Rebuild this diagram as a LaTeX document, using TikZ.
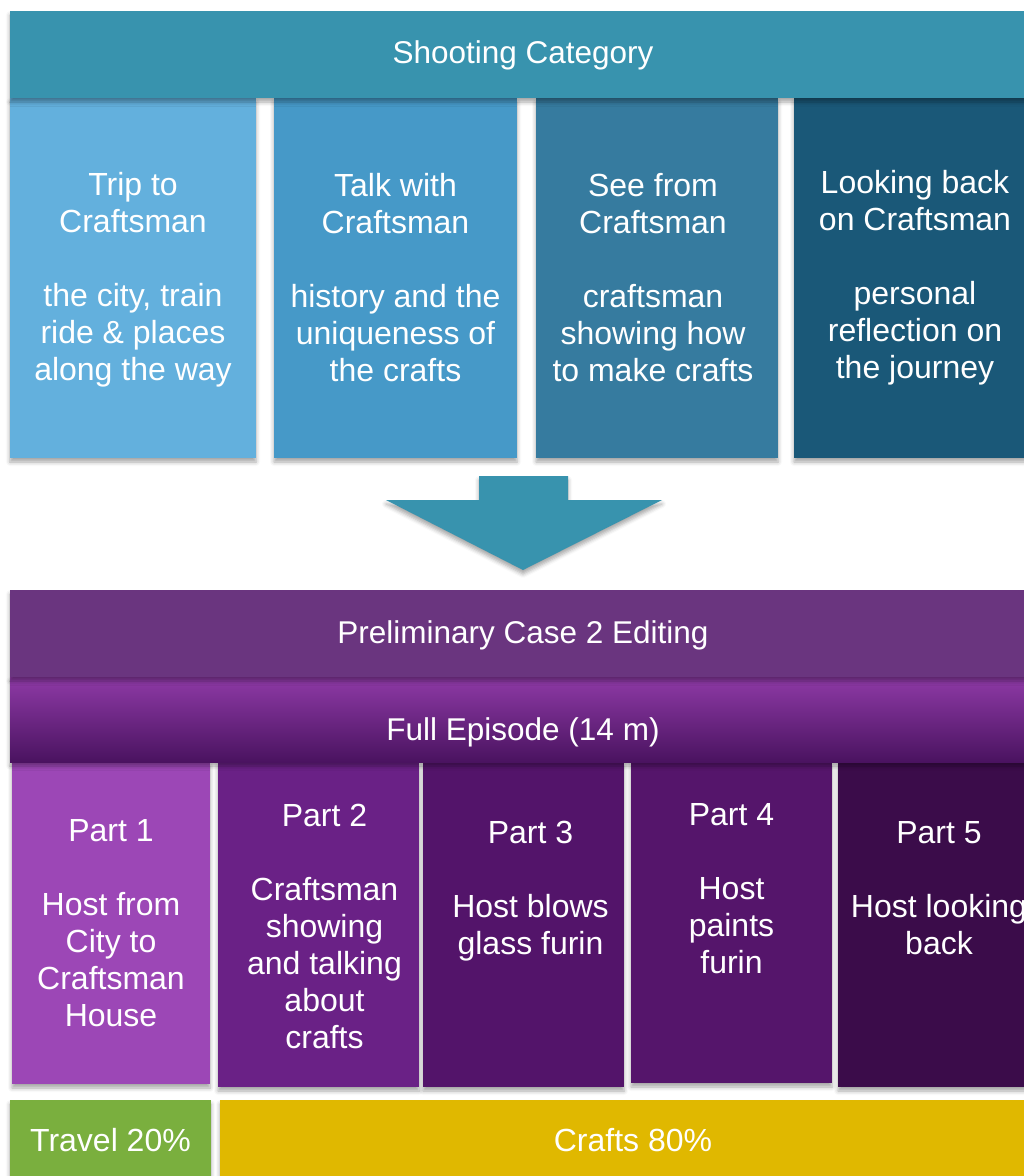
\documentclass[tikz,border=0pt]{standalone}
\usepackage{fontspec}
\setmainfont{Liberation Sans}
\usetikzlibrary{shadows.blur}
\definecolor{tealhdr}{HTML}{3893AE}
\definecolor{colA}{HTML}{63B0DD}
\definecolor{colB}{HTML}{4699C8}
\definecolor{colC}{HTML}{367B9F}
\definecolor{colD}{HTML}{1A5878}
\definecolor{purphdr}{HTML}{6A357F}
\definecolor{epTop}{HTML}{8E3AA6}
\definecolor{epBot}{HTML}{4A1360}
\definecolor{partA}{HTML}{9C47B6}
\definecolor{partB}{HTML}{6A2186}
\definecolor{partC}{HTML}{53146A}
\definecolor{partD}{HTML}{55156B}
\definecolor{partE}{HTML}{3B0C4A}
\definecolor{travelc}{HTML}{7AAF3E}
\definecolor{craftsc}{HTML}{E0B800}
\tikzset{
  shd/.style={blur shadow={shadow xshift=0pt, shadow yshift=-4pt, shadow blur radius=4pt, shadow opacity=35}},
  blockbox/.style={shd, inner sep=0pt, text=white, align=center,
    font=\fontsize{32}{37}\selectfont},
  txt/.style={text=white, align=center, inner sep=0pt, font=\fontsize{32}{37}\selectfont},
  hdrtxt/.style={txt, font=\fontsize{31.5}{37}\selectfont}
}
\begin{document}
\begin{tikzpicture}[x=1pt,y=-1pt]
\useasboundingbox (0,0) rectangle (1024,1176);
\clip (0,0) rectangle (1024,1176);

% category columns
\node[blockbox, fill=colA, minimum width=246pt, minimum height=360pt,
  label={[txt, yshift=-2pt]center:{Trip to\\Craftsman\\~\\the city, train\\ride \& places\\along the way}}] (c1) at (133,278) {};
\node[blockbox, fill=colB, minimum width=243pt, minimum height=360pt] (c2) at (395.5,278)
  {Talk with\\Craftsman\\~\\history and the\\uniqueness of\\the crafts};
\node[blockbox, fill=colC, minimum width=242pt, minimum height=360pt,
  label={[txt, xshift=-4pt]center:{See from\\Craftsman\\~\\craftsman\\showing how\\to make crafts}}] (c3) at (657,278) {};
\node[blockbox, fill=colD, minimum width=242pt, minimum height=360pt] (c4) at (915,278)
  {Looking back\\on Craftsman\\~\\personal\\reflection on\\the journey};

% top banner
\node[shd, inner sep=0pt, fill=tealhdr, minimum width=1026pt, minimum height=87pt,
  label={[hdrtxt, yshift=-1pt]center:Shooting Category}] (shoot) at (523,54.5) {};

% big down arrow
\fill[tealhdr, shd] (479,476) -- (568,476) -- (568,500) -- (662,500) -- (523,570)
  -- (386,500) -- (479,500) -- cycle;

% parts
\node[blockbox, fill=partA, minimum width=198pt, minimum height=322pt] (p1) at (111,923)
  {Part 1\\~\\Host from\\City to\\Craftsman\\House};
\node[blockbox, fill=partB, minimum width=201pt, minimum height=325pt,
  label={[txt, xshift=6pt, yshift=-2pt]center:{Part 2\\~\\Craftsman\\showing\\and talking\\about\\crafts}}] (p2) at (318.5,924.5) {};
\node[blockbox, fill=partC, minimum width=201pt, minimum height=325pt,
  label={[txt, xshift=7pt]center:{Part 3\\~\\Host blows\\glass furin\\~\\~}}] (p3) at (523.5,924.5) {};
\node[blockbox, fill=partD, minimum width=201pt, minimum height=321pt,
  label={[txt, yshift=-3pt]center:{Part 4\\~\\Host\\paints\\furin\\~\\~}}] (p4) at (731.5,922.5) {};
\node[blockbox, fill=partE, minimum width=202pt, minimum height=325pt] (p5) at (939,924.5)
  {Part 5\\~\\Host looking\\back\\~\\~};

% full episode band
\node[shd, inner sep=0pt, top color=epTop, bottom color=epBot, minimum width=1026pt, minimum height=85pt,
  label={[hdrtxt, yshift=-13pt]center:Full Episode (14 m)}] (ep) at (523,719.5) {};

% preliminary banner
\node[shd, inner sep=0pt, fill=purphdr, minimum width=1026pt, minimum height=87pt,
  label={[hdrtxt, yshift=-2pt]center:Preliminary Case 2 Editing}] (prelim) at (523,633.5) {};

% bottom bars
\node[blockbox, fill=travelc, minimum width=201pt, minimum height=80pt] (travel) at (110.5,1140)
  {Travel 20\%};
\node[blockbox, fill=craftsc, minimum width=826pt, minimum height=80pt] (crafts) at (633,1140)
  {Crafts 80\%};
\end{tikzpicture}
\end{document}
